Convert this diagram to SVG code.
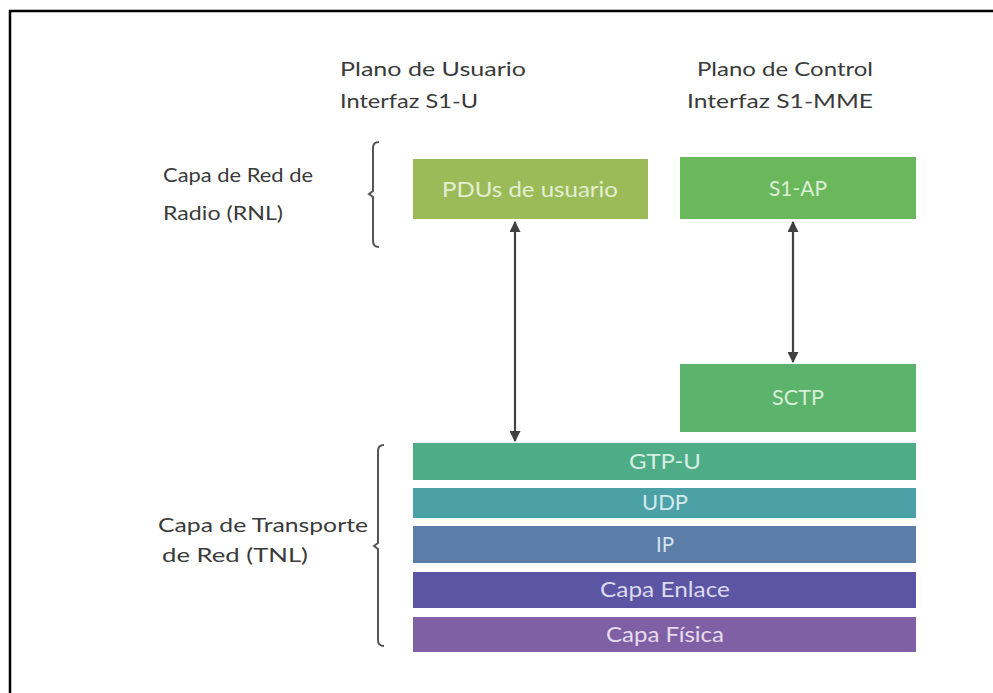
<svg xmlns="http://www.w3.org/2000/svg" width="993" height="693" viewBox="0 0 993 693">
<defs>
<marker id="ah" viewBox="0 0 10 10" refX="9" refY="5" markerWidth="5" markerHeight="5" orient="auto-start-reverse" markerUnits="strokeWidth">
<path d="M0,0 L10,5 L0,10 z" fill="#404040"/>
</marker>
<style>
.lbl{font-family:Lato,"Open Sans","Liberation Sans",sans-serif;font-size:19px;fill:#3a3a3a}
.bt{font-family:Lato,"Open Sans","Liberation Sans",sans-serif;font-size:21px;text-anchor:middle}
.arr{stroke:#404040;stroke-width:2.2;fill:none;marker-start:url(#ah);marker-end:url(#ah)}
.br{stroke:#555;stroke-width:2;fill:none}
</style>
</defs>
<rect x="0" y="0" width="993" height="693" fill="#fff"/>
<rect x="10" y="11" width="1000" height="700" fill="#fff" stroke="#000" stroke-width="2.5"/>

<g id="headers">
<text class="lbl" x="340" y="76" textLength="186" lengthAdjust="spacingAndGlyphs">Plano de Usuario</text>
<text class="lbl" x="340" y="108" textLength="138" lengthAdjust="spacingAndGlyphs">Interfaz S1-U</text>
<text class="lbl" x="697" y="76" textLength="176" lengthAdjust="spacingAndGlyphs">Plano de Control</text>
<text class="lbl" x="687" y="108" textLength="186" lengthAdjust="spacingAndGlyphs">Interfaz S1-MME</text>
</g>

<g id="rnl-label">
<text class="lbl" x="163" y="182" textLength="150" lengthAdjust="spacingAndGlyphs">Capa de Red de</text>
<text class="lbl" x="163" y="220" textLength="120" lengthAdjust="spacingAndGlyphs">Radio (RNL)</text>
<path class="br" d="M379,142 Q373,142 373,148 L373,191 L369,194 L373,197 L373,241 Q373,247 379,247"/>
</g>

<g id="tnl-label">
<text class="lbl" x="158" y="532" textLength="210" lengthAdjust="spacingAndGlyphs">Capa de Transporte</text>
<text class="lbl" x="162" y="562" textLength="146" lengthAdjust="spacingAndGlyphs">de Red (TNL)</text>
<path class="br" d="M384,445 Q378,445 378,451 L378,543 L374,546 L378,549 L378,640 Q378,646 384,646"/>
</g>

<g id="pdus">
<rect x="413" y="159" width="235" height="60" fill="#9BBB59"/>
<text class="bt" x="530" y="197" fill="#E4EFD2" textLength="176" lengthAdjust="spacingAndGlyphs">PDUs de usuario</text>
</g>
<g id="s1ap">
<rect x="680" y="157" width="236" height="62" fill="#6BB75B"/>
<text class="bt" x="798" y="196" fill="#DCEFD6" textLength="58" lengthAdjust="spacingAndGlyphs">S1-AP</text>
</g>
<g id="sctp">
<rect x="680" y="364" width="236" height="68" fill="#5CB36B"/>
<text class="bt" x="798" y="405" fill="#D6EFD9" textLength="52" lengthAdjust="spacingAndGlyphs">SCTP</text>
</g>
<g id="gtpu">
<rect x="413" y="443" width="503" height="37" fill="#4EAD87"/>
<text class="bt" x="665" y="469" fill="#D6EEE4" textLength="72" lengthAdjust="spacingAndGlyphs">GTP-U</text>
</g>
<g id="udp">
<rect x="413" y="488" width="503" height="30" fill="#4BA1A6"/>
<text class="bt" x="665" y="510" fill="#D4EBEE" textLength="46" lengthAdjust="spacingAndGlyphs">UDP</text>
</g>
<g id="ip">
<rect x="413" y="526" width="503" height="37" fill="#5A7EA8"/>
<text class="bt" x="665" y="552" fill="#D8E2EE" textLength="18" lengthAdjust="spacingAndGlyphs">IP</text>
</g>
<g id="enlace">
<rect x="413" y="572" width="503" height="36" fill="#5B55A3"/>
<text class="bt" x="665" y="597" fill="#DCDAEE" textLength="130" lengthAdjust="spacingAndGlyphs">Capa Enlace</text>
</g>
<g id="fisica">
<rect x="413" y="617" width="503" height="35" fill="#8060A4"/>
<text class="bt" x="665" y="642" fill="#E6DCEE" textLength="118" lengthAdjust="spacingAndGlyphs">Capa Física</text>
</g>

<g id="connectors">
<line class="arr" x1="515" y1="222" x2="515" y2="441"/>
<line class="arr" x1="793" y1="222" x2="793" y2="362"/>
</g>
</svg>
